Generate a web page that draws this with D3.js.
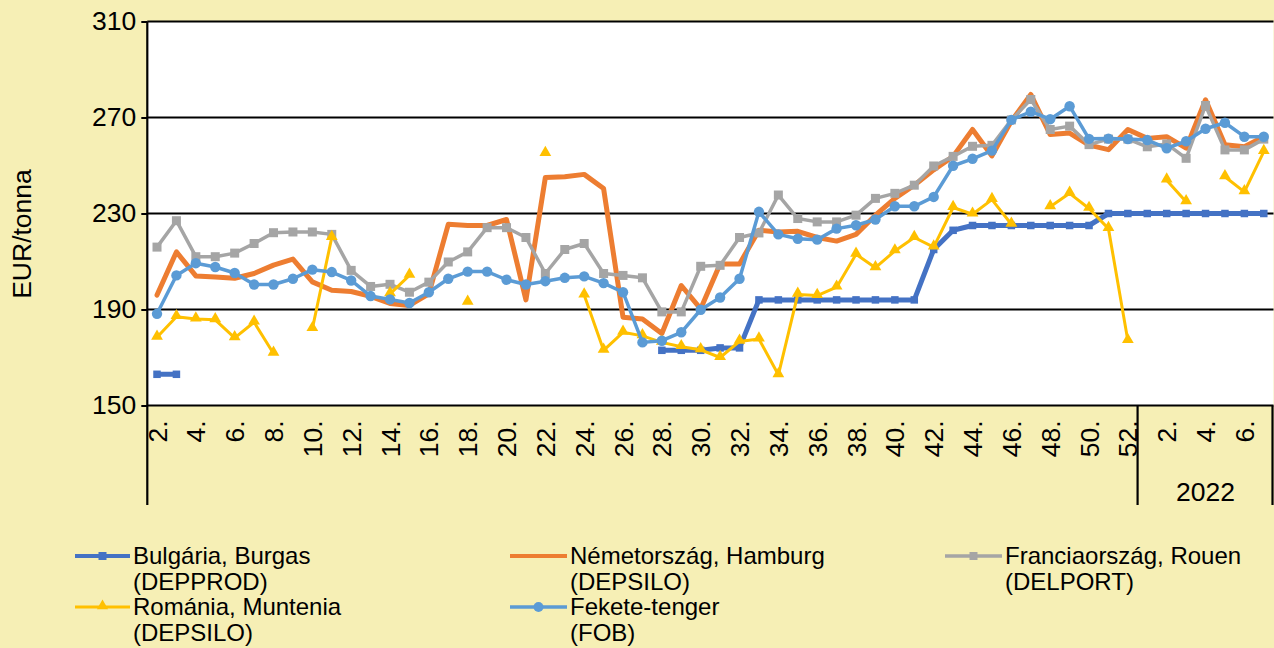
<!DOCTYPE html>
<html><head><meta charset="utf-8">
<script src="https://cdn.jsdelivr.net/npm/d3@7"></script>
<style>
body{margin:0;background:#F6EFB5;}
svg{display:block;font-family:"Liberation Sans",Arial,sans-serif;}
</style>
</head><body>
<svg id="chart" width="1274" height="648"></svg>
<script>
// ---- data ----
const weeks2021 = ["2.","3.","4.","5.","6.","7.","8.","9.","10.","11.","12.","13.","14.","15.","16.","17.","18.","19.","20.","21.","22.","23.","24.","25.","26.","27.","28.","29.","30.","31.","32.","33.","34.","35.","36.","37.","38.","39.","40.","41.","42.","43.","44.","45.","46.","47.","48.","49.","50.","51.","52."];
const weeks2022 = ["1.","2.","3.","4.","5.","6.","7."];
const yearLabel2022 = "2022";
const yTicks = [150,190,230,270,310];
const yTitle = "EUR/tonna";

const bulgaria = [163,163,null,null,null,null,null,null,null,null,null,null,null,null,null,null,null,null,null,null,null,null,null,null,null,null,173,173,173,174,174,194,194,194,194,194,194,194,194,194,215,223,225,225,225,225,225,225,225,230,230,230,230,230,230,230,230,230];
const nemetorszag = [196,214,204,203.5,203,205,208.5,211,201.5,198,197.5,195.5,192.5,191.7,196.5,225.5,225,225,227.5,194,245,245.3,246.3,240.4,186.8,186,180,200,190.3,209,209,223,222.3,222.6,220,218.5,221.3,229.3,236.3,241.8,248.2,253.8,265,254,268.5,279.6,262.9,263.5,258.5,256.6,265,261.3,262,257.2,277.4,258.6,257.8,262];
const franciaorszag = [216,227,212,212,213.5,217.5,222,222.3,222.3,221.3,206.3,199.6,200.5,197.2,201.4,209.8,214,224.1,224.1,220,205,215,217.5,205,204.2,203.2,189,189,208,208.4,220,221.9,237.7,227.9,226.5,226.5,229.3,236.3,238.4,241.8,249.8,253.8,258,258.4,269,277.5,265,266.4,258.7,261,261,257.8,259,253,275,256.5,256.5,261];
const romania = [178.4,187,186,185.7,178.2,184.7,171.7,null,182,220,null,null,196.5,204.2,null,null,193,null,null,null,255,null,196,173,180.5,179,176.3,174.5,173.2,170,176.7,177.7,162.8,196.3,195.8,199.3,213,207.4,214.4,220,216,232.5,229.7,235.8,225.5,null,232.8,238.4,232.1,223.7,177,null,243.9,234.9,null,245.3,239,255.8];
const feketeTenger = [188.2,204.2,209.3,207.7,205.2,200.4,200.4,202.8,206.6,205.6,202.1,195.6,194.2,192.7,197.2,202.8,205.8,205.8,202.4,200.4,201.8,203.2,203.8,201,197.2,176.3,177,180.5,189.9,195,202.8,230.7,221.3,219.5,219.1,223.7,225.1,227.5,233,233,236.9,249.9,252.8,256.2,269,272.4,269.3,274.7,261.1,261.2,261,260.6,257.2,260.1,265.3,267.8,262,262];

const seriesNames = [
  ["Bulgária, Burgas","(DEPPROD)"],
  ["Németország, Hamburg","(DEPSILO)"],
  ["Franciaország, Rouen","(DELPORT)"],
  ["Románia, Muntenia","(DEPSILO)"],
  ["Fekete-tenger","(FOB)"]
];

// ---- styling ----
const series = [
  {name: seriesNames[0], values: bulgaria, color:"#4472C4", width:5, marker:"square", msize:7.5},
  {name: seriesNames[1], values: nemetorszag, color:"#ED7D31", width:5, marker:null},
  {name: seriesNames[2], values: franciaorszag, color:"#A5A5A5", width:3.5, marker:"square", msize:9},
  {name: seriesNames[3], values: romania, color:"#FFC000", width:3, marker:"triangle", msize:60},
  {name: seriesNames[4], values: feketeTenger, color:"#5B9BD5", width:3.5, marker:"circle", msize:5.2}
];
const axisFont = 26.5, legendFont = 24;

const svg = d3.select("#chart");
const W = 1274, H = 648;
const plot = {left:147.3, right:1273.5, top:21.5, bottom:405.5};
const categories = weeks2021.concat(weeks2022);
const n = categories.length;

const x = d3.scaleBand().domain(d3.range(n)).range([plot.left, plot.right]).padding(0);
const cx = i => x(i) + x.bandwidth()/2;
const y = d3.scaleLinear().domain([150,310]).range([plot.bottom, plot.top]);

svg.append("rect").attr("width",W).attr("height",H).attr("fill","#F6EFB5");
svg.append("rect").attr("x",plot.left).attr("y",plot.top)
  .attr("width",plot.right-plot.left).attr("height",plot.bottom-plot.top).attr("fill","#FFFFFF");

// gridlines
svg.append("g").selectAll("line").data(yTicks).join("line")
  .attr("x1",plot.left).attr("x2",plot.right)
  .attr("y1",d=>y(d)).attr("y2",d=>y(d))
  .attr("stroke","#000").attr("stroke-width",2.2);

// y axis
const yAxis = svg.append("g").attr("transform",`translate(${plot.left},0)`)
  .call(d3.axisLeft(y).tickValues(yTicks).tickSize(6).tickPadding(5).tickFormat(d3.format("d")));
yAxis.select(".domain").remove();
yAxis.selectAll(".tick line").attr("stroke","#000").attr("stroke-width",2);
yAxis.selectAll(".tick text").attr("font-size",axisFont).attr("fill","#000")
  .attr("font-family",'"Liberation Sans",Arial,sans-serif');

// left axis line extended through category area
svg.append("line").attr("x1",plot.left).attr("x2",plot.left)
  .attr("y1",plot.top).attr("y2",505).attr("stroke","#000").attr("stroke-width",2.2);
// group separators
const sepX = x(weeks2021.length);
svg.append("line").attr("x1",sepX).attr("x2",sepX).attr("y1",plot.bottom).attr("y2",505)
  .attr("stroke","#000").attr("stroke-width",2.2);
svg.append("line").attr("x1",plot.right-1).attr("x2",plot.right-1).attr("y1",plot.bottom).attr("y2",505)
  .attr("stroke","#000").attr("stroke-width",2.2);

// x axis
const xAxis = svg.append("g").attr("transform",`translate(0,${plot.bottom})`)
  .call(d3.axisBottom(x).tickValues(d3.range(n).filter(i=>i%2===0)).tickSize(0)
    .tickFormat(i=>categories[i]));
xAxis.select(".domain").remove();
xAxis.selectAll(".tick").attr("transform", i=>`translate(${cx(i)},0)`);
xAxis.selectAll(".tick text")
  .attr("transform","rotate(-90)")
  .attr("text-anchor","end")
  .attr("x",-15).attr("y",0).attr("dy","0.36em")
  .attr("font-size",axisFont).attr("fill","#000")
  .attr("font-family",'"Liberation Sans",Arial,sans-serif');

svg.append("text").attr("x",(sepX+plot.right)/2).attr("y",492).attr("dy","0.35em")
  .attr("text-anchor","middle").attr("font-size",axisFont).text(yearLabel2022);

// y title
svg.append("text").attr("transform","translate(22,234) rotate(-90)")
  .attr("text-anchor","middle").attr("dy","0.35em").attr("font-size",axisFont).text(yTitle);

// series
const line = d3.line().defined(d=>d!=null).x((d,i)=>cx(i)).y(d=>y(d));
function drawMarker(g, type, color, size, px, py){
  if(type==="square"){
    g.append("rect").attr("x",px-size/2).attr("y",py-size/2).attr("width",size).attr("height",size).attr("fill",color);
  } else if(type==="circle"){
    g.append("circle").attr("cx",px).attr("cy",py).attr("r",size).attr("fill",color);
  } else if(type==="triangle"){
    g.append("path").attr("d",d3.symbol(d3.symbolTriangle, size)()).attr("transform",`translate(${px},${py-1})`).attr("fill",color);
  }
}
series.forEach(s=>{
  const g = svg.append("g");
  g.append("path").datum(s.values).attr("d",line).attr("fill","none")
    .attr("stroke",s.color).attr("stroke-width",s.width).attr("stroke-linejoin","round").attr("stroke-linecap","round");
  if(s.marker){
    s.values.forEach((v,i)=>{ if(v!=null) drawMarker(g, s.marker, s.color, s.msize, cx(i), y(v)); });
  }
});

// legend
const legendPos = [
  {sx:75, tx:133, ty:556},
  {sx:510, tx:570, ty:556},
  {sx:945, tx:1005, ty:556},
  {sx:75, tx:133, ty:607},
  {sx:510, tx:570, ty:607}
];
const legend = svg.append("g");
series.forEach((s,k)=>{
  const p = legendPos[k];
  const g = legend.append("g");
  g.append("line").attr("x1",p.sx).attr("x2",p.tx-3).attr("y1",p.ty).attr("y2",p.ty)
    .attr("stroke",s.color).attr("stroke-width",Math.min(s.width,4));
  if(s.marker) drawMarker(g, s.marker, s.color, s.marker==="circle"?5:(s.marker==="triangle"?55:8), (p.sx+p.tx-3)/2, p.ty);
  g.append("text").attr("x",p.tx).attr("y",p.ty).attr("dy","0.35em").attr("font-size",legendFont).text(s.name[0]);
  g.append("text").attr("x",p.tx).attr("y",p.ty+25.5).attr("dy","0.35em").attr("font-size",legendFont).text(s.name[1]);
});
</script>
</body></html>
